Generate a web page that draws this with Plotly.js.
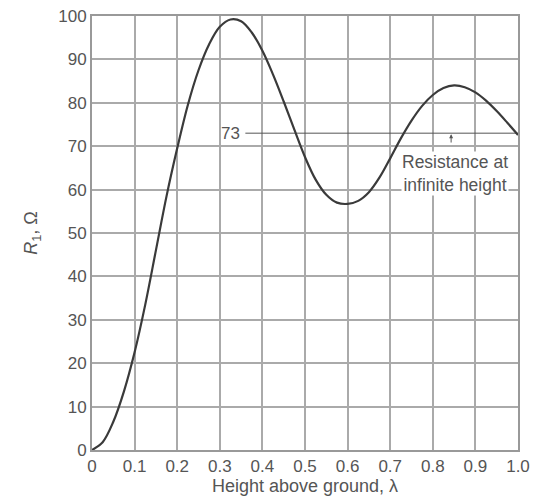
<!DOCTYPE html>
<html>
<head>
<meta charset="utf-8">
<script src="https://cdn.plot.ly/plotly-3.0.1.min.js"></script>
<style>html,body{margin:0;padding:0;background:#fff;}#chart{width:537px;height:502px;}</style>
</head>
<body>
<div id="chart"></div>
<script>
const heights = [0,0.025,0.05,0.075,0.1,0.125,0.15,0.175,0.2,0.225,0.25,0.275,0.3,0.325,0.35,0.375,0.4,0.425,0.45,0.475,0.5,0.525,0.55,0.575,0.6,0.625,0.65,0.675,0.7,0.725,0.75,0.775,0.8,0.825,0.85,0.875,0.9,0.925,0.95,0.975,1.0];
const resistance = [0,1.8,6.5,13.5,22.5,33.5,46,58.5,69.5,79.5,87.5,93.5,97.5,99.2,98.8,96.2,92,86.5,80.3,73.8,67.5,62.3,58.8,57,56.7,57.4,59.4,62.8,67.2,71.8,75.9,79.3,81.8,83.4,84,83.6,82.4,80.5,78.1,75.4,72.6];
const infiniteValue = 73;
const refLineStart = 0.36;
const xTicks = [0,0.1,0.2,0.3,0.4,0.5,0.6,0.7,0.8,0.9,1.0];
const xTickLabels = ['0','0.1','0.2','0.3','0.4','0.5','0.6','0.7','0.8','0.9','1.0'];
const yTicks = [0,10,20,30,40,50,60,70,80,90,100];

const font = 'Liberation Sans, Arial, sans-serif';
const textColor = '#555';
const gridColor = '#aaa';

const data = [
  {x:[refLineStart,1.0], y:[infiniteValue,infiniteValue], mode:'lines', line:{color:'#555', width:1}, hoverinfo:'skip'},
  {x:heights, y:resistance, mode:'lines', line:{color:'#3a3a3a', width:2.2, shape:'spline', smoothing:1}}
];

const layout = {
  width:537, height:502,
  margin:{l:92, r:19, t:16, b:52},
  paper_bgcolor:'#fff', plot_bgcolor:'#fff',
  showlegend:false,
  font:{family:font, size:17, color:textColor},
  xaxis:{range:[0,1], tickvals:xTicks, ticktext:xTickLabels, showgrid:true, gridcolor:gridColor, gridwidth:2,
         zeroline:false, showline:true, mirror:true, linecolor:'#999', linewidth:2, ticks:'', ticklen:0,
         tickfont:{size:17, color:textColor},
         title:{text:'Height above ground, λ', font:{size:18, color:textColor}, standoff:4}},
  yaxis:{range:[0,100], tickvals:yTicks, showgrid:true, gridcolor:gridColor, gridwidth:2,
         zeroline:false, showline:true, mirror:true, linecolor:'#999', linewidth:2, ticks:'',
         tickfont:{size:17, color:textColor},
         title:{text:'<i>R</i><sub>1</sub>, Ω', font:{size:18, color:textColor}, standoff:16}},
  annotations:[
    {x:refLineStart, y:infiniteValue, xref:'x', yref:'y', text:String(infiniteValue), showarrow:false,
     xanchor:'right', xshift:-3, font:{size:17, color:textColor}},
    {x:0.843, y:infiniteValue, xref:'x', yref:'y', ax:0.843, ay:70.5, axref:'x', ayref:'y', text:'', showarrow:true,
     arrowhead:2, arrowsize:0.8, arrowwidth:1, arrowcolor:'#555', standoff:1},
    {x:0.852, y:63.8, xref:'x', yref:'y', text:'Resistance at<br>infinite height', showarrow:false,
     bgcolor:'#fff', font:{size:17.5, color:textColor}, align:'center', borderpad:0}
  ]
};

Plotly.newPlot('chart', data, layout, {displayModeBar:false, staticPlot:true});
</script>
</body>
</html>
